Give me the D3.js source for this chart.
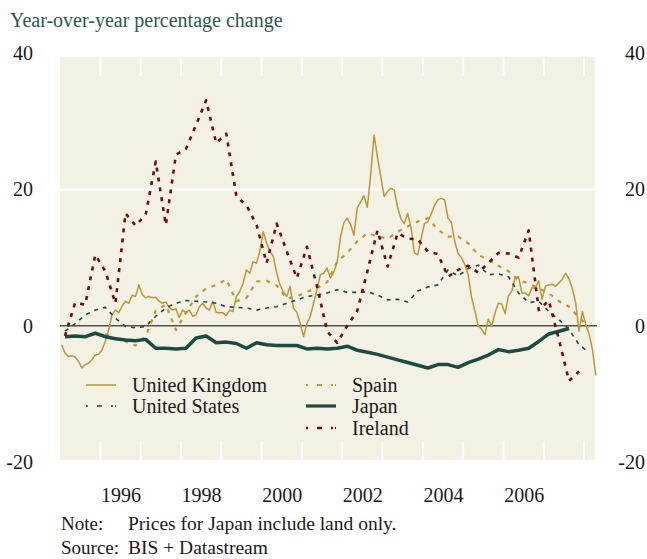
<!DOCTYPE html>
<html>
<head>
<meta charset="utf-8">
<script src="https://cdn.jsdelivr.net/npm/d3@7"></script>
<style>
  html, body { margin: 0; padding: 0; background: #fff; }
  svg { display: block; }
  text { font-family: "Liberation Serif", "DejaVu Serif", serif; }
</style>
</head>
<body>
<div id="chart"></div>
<script>
// Year-over-year house price change, quarterly series start 1995 Q1 (Spain 1996 Q1), UK monthly from Jan 1995
const quarterStart = 1995.125;
const spainStart = 1996.125;
const ukStart = 1995.04;

const ireland = [-1.5, 3.4, 3.1, 10.4, 8, 3.3, 16.5, 14.7, 16.3, 24.1,
  14.8, 25.1, 26, 29.5, 33.1, 26.8, 28.2, 19, 17.7, 14.8,
  9.2, 15, 10.9, 7, 11.6, 5.8, -0.8, -2.5, 0, 2.2,
  8, 14, 8.7, 13.6, 12.8, 12.7, 10.9, 10.5, 7.2, 8.2,
  8.8, 7.8, 9.2, 10.7, 10.6, 10, 14, 2.3, 3.7, -2,
  -8.1, -6.7];

const spain = [-1.2, -1.8, -2.3, -2.9, -1.5, 2.2, 3.1, -0.6, 1.9, 4.3,
  5.5, 6, 6.8, 3.6, 4.1, 6.5, 6.6, 5.9, 4.0, 4.3,
  5, 5.5, 6.4, 9.4, 10.7, 12.4, 13.6, 13.1, 12.8, 13.8,
  14.6, 15.3, 15.8, 14.1, 13.1, 13.1, 12.1, 10.4, 9.7, 8.8,
  8, 6.7, 6.2, 5.5, 4.8, 3.6, 2.8, 1.2, -0.2];

const unitedStates = [-0.8, 0.3, 1.6, 2.3, 2.7, 1.1, -0.1, -0.3, -0.1, 1.4,
  2.6, 3.3, 3.7, 3.6, 3.5, 3.3, 2.8, 2.7, 2.6, 2.3,
  2.6, 2.8, 3.3, 3.8, 4.3, 4.5, 4.8, 5.3, 4.9, 4.9,
  5, 4.5, 3.8, 3.9, 3.5, 5.1, 5.7, 6, 8.2, 7.3,
  8.4, 8.9, 7.5, 7.6, 7.2, 4.8, 3.4, 3.6, 2.1, 0.9,
  -0.5, -2.8, -3.9];

const japan = [-1.6, -1.5, -1.6, -1.1, -1.6, -1.9, -2.1, -2.2, -2, -3.3,
  -3.3, -3.4, -3.3, -1.8, -1.5, -2.5, -2.4, -2.6, -3.3, -2.5,
  -2.8, -2.9, -2.9, -2.9, -3.4, -3.3, -3.4, -3.3, -3, -3.6,
  -3.9, -4.2, -4.6, -5, -5.4, -5.8, -6.2, -5.7, -5.7, -6.1,
  -5.4, -4.9, -4.3, -3.5, -3.8, -3.6, -3.3, -2.3, -1.2, -0.8,
  -0.4];

const unitedKingdom = [
  -2.8, -4.0, -4.5, -4.4, -4.6, -5.2, -6.2, -5.7, -5.5, -5.0, -4.3, -4.2,
  -3.6, -2.3, -0.6, 1.6, 2.3, 1.9, 2.9, 3.6, 3.3, 4.5, 4.3, 6.0,
  4.6, 4.1, 4.3, 4.1, 4.2, 3.6, 3.3, 3.5, 2.7, 2.3, 2.5, 1.2,
  2.3, 1.9, 2.3, 1.4, 1.6, 2.8, 3.3, 2.6, 2.3, 3.6, 2.0, 1.9,
  1.9, 1.5, 2.3, 2.1, 4.3, 5.0, 6.2, 8.2, 7.7, 9.4, 9.2, 11.0,
  13.8, 12.2, 10.9, 10.2, 7.8, 6.0, 5.0, 4.3, 5.8, 2.6, 2.0, 0.4,
  -1.6, 0.3, 1.4, 3.3, 5.3, 7.5, 7.7, 8.5, 7.0, 7.9, 9.3, 13.0,
  15.1, 15.8, 14.9, 13.3, 17.3, 18.2, 19.1, 17.4, 22.3, 28.0, 24.8, 21.9,
  19.0, 19.7, 20.2, 19.9, 17.4, 15.7, 15.0, 16.5, 14.4, 10.7, 10.4, 12.8,
  15.0, 15.3, 16.4, 17.7, 18.5, 18.7, 18.5, 15.8, 15.2, 12.4, 10.6, 10.0,
  9.0, 7.5, 4.2, 2.2, 0.0, -0.5, -1.3, 1.0, -0.1, 1.9, 3.3, 3.2,
  1.8, 4.4, 5.1, 7.1, 7.2, 4.8, 4.8, 4.4, 5.6, 5.5, 6.6, 3.9,
  5.8, 6.0, 6.1, 5.8, 6.3, 6.8, 7.7, 6.9, 5.5, 3.4, -0.8, 2.1,
  0.2, -1.2, -3.5, -7.3];

const yTicks = [-20, 0, 20, 40];
const yearLabels = [1996, 1998, 2000, 2002, 2004, 2006];
const yearBoundaries = d3.range(1996, 2009);

const GOLD = '#b9993b';
const TEAL = '#1d4a42';
const RED = '#730d0d';

// series list: order = drawing order
const series = [
  { name: 'United Kingdom', values: unitedKingdom, start: ukStart, step: 1 / 12,
    color: GOLD, width: 1.5, dash: null },
  { name: 'United States', values: unitedStates, start: quarterStart, step: 0.25,
    color: TEAL, width: 1.6, dash: '4,5' },
  { name: 'Spain', values: spain, start: spainStart, step: 0.25,
    color: GOLD, width: 2.2, dash: '4,6' },
  { name: 'Japan', values: japan, start: quarterStart, step: 0.25,
    color: TEAL, width: 3.5, dash: null },
  { name: 'Ireland', values: ireland, start: quarterStart, step: 0.25,
    color: RED, width: 2.6, dash: '4,6' }
];

const W = 647, H = 559;
const plot = { left: 60, right: 595, top: 57, bottom: 460 };

const svg = d3.select('#chart').append('svg')
  .attr('width', W).attr('height', H);

const x = d3.scaleLinear().domain([1995, 2008.27]).range([plot.left, plot.right]);
const y = d3.scaleLinear().domain([-20, 40]).range([462, 53.3]);

svg.append('text')
  .attr('x', 10).attr('y', 27)
  .attr('font-size', 20).attr('fill', '#2b5a50')
  .text('Year-over-year percentage change');

// plot background
svg.append('rect')
  .attr('x', plot.left).attr('y', plot.top)
  .attr('width', plot.right - plot.left).attr('height', plot.bottom - plot.top)
  .attr('fill', '#f3f0e4');

// white gridline at 20
svg.append('line')
  .attr('x1', plot.left).attr('x2', plot.right)
  .attr('y1', y(20)).attr('y2', y(20))
  .attr('stroke', '#fff').attr('stroke-width', 2.6);

// white year ticks, top and bottom
const tickG = svg.append('g');
yearBoundaries.forEach(yr => {
  tickG.append('line')
    .attr('x1', x(yr)).attr('x2', x(yr))
    .attr('y1', plot.top).attr('y2', plot.top + 19)
    .attr('stroke', '#fff').attr('stroke-width', 2);
  tickG.append('line')
    .attr('x1', x(yr)).attr('x2', x(yr))
    .attr('y1', plot.bottom - 19).attr('y2', plot.bottom)
    .attr('stroke', '#fff').attr('stroke-width', 2);
});

// zero line
svg.append('line')
  .attr('x1', plot.left).attr('x2', plot.right + 2)
  .attr('y1', y(0)).attr('y2', y(0))
  .attr('stroke', '#505050').attr('stroke-width', 1.3);

const line = d3.line()
  .x(d => x(d.t))
  .y(d => y(d.v));

series.forEach(s => {
  const pts = s.values.map((v, i) => ({ t: s.start + i * s.step, v: v }));
  svg.append('path')
    .datum(pts)
    .attr('d', line)
    .attr('fill', 'none')
    .attr('stroke', s.color)
    .attr('stroke-width', s.width)
    .attr('stroke-linejoin', 'round')
    .attr('stroke-dasharray', s.dash);
});

// y axes left and right (plain hyphen for negatives, as in the original)
function styleAxis(g) {
  g.select('.domain').remove();
  g.selectAll('text').attr('font-size', 20).attr('fill', '#1a1a1a')
    .attr('font-family', '"Liberation Serif", serif');
}
const yAxis = d3.axisLeft(y).tickValues(yTicks).tickSize(0).tickPadding(0)
  .tickFormat(d => String(d));
svg.append('g').attr('transform', 'translate(33,0)').call(yAxis).call(styleAxis);
svg.append('g').attr('transform', 'translate(645,0)').call(yAxis).call(styleAxis);

// year labels centred within the year
svg.append('g')
  .attr('transform', 'translate(0,488)')
  .call(d3.axisBottom(x).tickValues(yearLabels.map(d => d + 0.5))
    .tickFormat(d => String(Math.floor(d))).tickSize(0).tickPadding(0))
  .call(styleAxis);

// legend
const legendItems = [
  { s: series[0], x: 86, y: 385 },
  { s: series[1], x: 86, y: 406 },
  { s: series[2], x: 306, y: 385 },
  { s: series[3], x: 306, y: 406 },
  { s: series[4], x: 306, y: 428 }
];
const lg = svg.append('g');
legendItems.forEach(it => {
  lg.append('line')
    .attr('x1', it.x).attr('x2', it.x + 30)
    .attr('y1', it.y).attr('y2', it.y)
    .attr('stroke', it.s.color)
    .attr('stroke-width', Math.min(it.s.width, 3.2))
    .attr('stroke-dasharray', it.s.dash ? '2,9,5,9,2' : null);
  lg.append('text')
    .attr('x', it.x + 46).attr('y', it.y + 6.5)
    .attr('font-size', 20).attr('fill', '#1a1a1a')
    .text(it.s.name);
});

// notes
const notes = [
  { label: 'Note:', text: 'Prices for Japan include land only.', tx: 128, y: 530 },
  { label: 'Source:', text: 'BIS + Datastream', tx: 128, y: 554 }
];
notes.forEach(n => {
  svg.append('text').attr('x', 61).attr('y', n.y)
    .attr('font-size', 19).attr('fill', '#1a1a1a').text(n.label);
  svg.append('text').attr('x', n.tx).attr('y', n.y)
    .attr('font-size', 19.5).attr('fill', '#1a1a1a').text(n.text);
});
</script>
</body>
</html>
